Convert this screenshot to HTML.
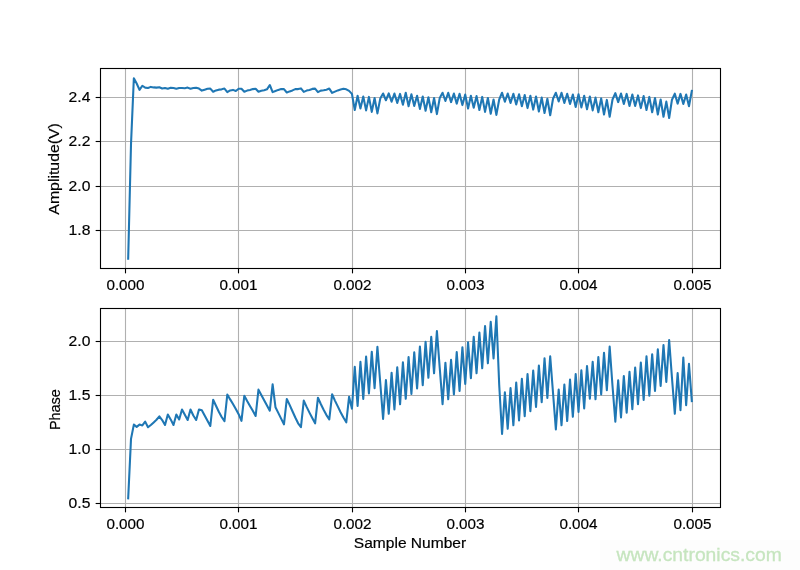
<!DOCTYPE html>
<html><head><meta charset="utf-8"><style>
html,body{margin:0;padding:0;background:#fff;width:800px;height:570px;overflow:hidden}
svg{display:block;will-change:transform}
text{font-family:"Liberation Sans",sans-serif;font-size:14.0px;fill:#000;stroke:#000;stroke-width:0.18px}
</style></head><body>
<svg width="800" height="570" viewBox="0 0 800 570">
<rect width="800" height="570" fill="#fff"/>
<g stroke="#b0b0b0" stroke-width="1.11" fill="none">
<line x1="125.50" y1="68.5" x2="125.50" y2="268.5"/>
<line x1="238.50" y1="68.5" x2="238.50" y2="268.5"/>
<line x1="352.50" y1="68.5" x2="352.50" y2="268.5"/>
<line x1="465.50" y1="68.5" x2="465.50" y2="268.5"/>
<line x1="578.50" y1="68.5" x2="578.50" y2="268.5"/>
<line x1="692.50" y1="68.5" x2="692.50" y2="268.5"/>
<line x1="125.50" y1="308.5" x2="125.50" y2="507.5"/>
<line x1="238.50" y1="308.5" x2="238.50" y2="507.5"/>
<line x1="352.50" y1="308.5" x2="352.50" y2="507.5"/>
<line x1="465.50" y1="308.5" x2="465.50" y2="507.5"/>
<line x1="578.50" y1="308.5" x2="578.50" y2="507.5"/>
<line x1="692.50" y1="308.5" x2="692.50" y2="507.5"/>
<line x1="100.5" y1="230.50" x2="720.5" y2="230.50"/>
<line x1="100.5" y1="186.50" x2="720.5" y2="186.50"/>
<line x1="100.5" y1="141.50" x2="720.5" y2="141.50"/>
<line x1="100.5" y1="97.50" x2="720.5" y2="97.50"/>
<line x1="100.5" y1="503.50" x2="720.5" y2="503.50"/>
<line x1="100.5" y1="449.50" x2="720.5" y2="449.50"/>
<line x1="100.5" y1="395.50" x2="720.5" y2="395.50"/>
<line x1="100.5" y1="341.50" x2="720.5" y2="341.50"/>
</g>
<g fill="none" stroke="#1f77b4" stroke-width="2.08" stroke-linejoin="round" stroke-linecap="square">
<polyline points="128.18,258.80 131.01,144.00 133.85,78.20 136.68,83.50 139.51,89.90 142.34,85.75 145.18,87.60 148.01,88.00 150.84,86.90 153.67,87.40 156.51,87.60 159.34,87.25 162.17,88.50 165.00,88.00 167.83,88.75 170.67,87.85 173.50,88.00 176.33,88.75 179.16,88.00 182.00,88.00 184.83,88.20 187.66,87.60 190.49,88.75 193.33,88.00 196.16,87.80 198.99,88.60 201.82,90.60 204.65,89.65 207.49,88.75 210.32,88.60 213.15,91.75 215.98,90.40 218.82,89.65 221.65,89.35 224.48,88.60 227.31,92.10 230.15,90.40 232.98,89.90 235.81,91.00 238.64,88.75 241.47,88.75 244.31,91.75 247.14,90.60 249.97,89.90 252.80,89.10 255.64,88.75 258.47,91.75 261.30,90.85 264.13,90.25 266.97,89.35 269.80,85.00 272.63,92.10 275.46,91.00 278.29,89.90 281.13,89.10 283.96,89.10 286.79,92.50 289.62,91.40 292.46,90.40 295.29,89.10 298.12,89.10 300.95,88.40 303.78,91.90 306.62,90.60 309.45,89.90 312.28,88.90 315.11,88.60 317.95,92.10 320.78,90.60 323.61,90.25 326.44,89.65 329.28,88.60 332.11,92.90 334.94,91.60 337.77,90.40 340.60,89.50 343.44,88.75 346.27,89.30 349.10,90.90 351.93,93.90 354.77,110.00 357.60,95.75 360.43,108.50 363.26,96.50 366.10,110.40 368.93,96.90 371.76,111.90 374.59,98.00 377.42,113.40 380.26,98.60 383.09,93.50 385.92,100.25 388.75,93.35 391.59,101.75 394.42,93.50 397.25,102.90 400.08,93.90 402.92,104.75 405.75,92.75 408.58,106.25 411.41,94.25 414.24,105.90 417.08,95.75 419.91,108.90 422.74,96.50 425.57,110.75 428.41,97.25 431.24,112.25 434.07,98.00 436.90,114.10 439.74,98.00 442.57,92.75 445.40,101.00 448.23,92.75 451.06,102.10 453.90,93.50 456.73,103.60 459.56,93.70 462.39,105.10 465.23,94.60 468.06,108.50 470.89,95.75 473.72,107.75 476.56,96.10 479.39,110.00 482.22,96.90 485.05,111.90 487.88,98.00 490.72,113.75 493.55,99.50 496.38,114.90 499.21,99.50 502.05,92.75 504.88,101.75 507.71,93.50 510.54,102.90 513.38,93.70 516.21,104.40 519.04,94.25 521.87,106.25 524.70,95.00 527.54,108.10 530.37,95.75 533.20,109.60 536.03,96.50 538.87,111.50 541.70,97.60 544.53,113.00 547.36,98.75 550.20,115.25 553.03,98.75 555.86,92.75 558.69,101.40 561.52,92.75 564.36,102.90 567.19,93.70 570.02,104.00 572.85,94.60 575.69,107.00 578.52,94.25 581.35,107.40 584.18,95.75 587.01,109.25 589.85,96.50 592.68,110.40 595.51,97.60 598.34,112.25 601.18,98.40 604.01,114.50 606.84,99.90 609.67,116.75 612.51,99.50 615.34,93.10 618.17,102.10 621.00,93.50 623.83,104.00 626.67,93.90 629.50,105.90 632.33,94.60 635.16,105.90 638.00,95.40 640.83,108.10 643.66,96.10 646.49,110.00 649.33,96.90 652.16,112.25 654.99,98.00 657.82,114.50 660.65,99.50 663.49,116.75 666.32,101.60 669.15,118.00 671.98,99.70 674.82,93.70 677.65,103.60 680.48,93.90 683.31,104.00 686.15,94.60 688.98,106.25 691.81,90.90"/>
<polyline points="128.18,498.30 131.01,438.90 133.85,424.60 136.68,426.90 139.51,424.60 142.34,425.40 145.18,421.60 148.01,427.25 150.84,425.00 153.67,422.40 156.51,419.75 159.34,416.40 162.17,420.10 165.00,425.00 167.83,414.50 170.67,419.40 173.50,425.00 176.33,414.60 179.16,419.50 182.00,409.50 184.83,414.75 187.66,420.00 190.49,409.50 193.33,415.50 196.16,420.00 198.99,409.50 201.82,410.25 204.65,415.50 207.49,420.75 210.32,426.00 213.15,399.75 215.98,405.75 218.82,411.75 221.65,417.00 224.48,421.10 227.31,394.50 230.15,399.40 232.98,404.00 235.81,408.90 238.64,414.20 241.47,420.80 244.31,395.80 247.14,401.05 249.97,405.90 252.80,410.70 255.64,416.00 258.47,389.65 261.30,394.90 264.13,400.20 266.97,405.40 269.80,410.70 272.63,384.40 275.46,407.20 278.29,412.90 281.13,418.60 283.96,424.30 286.79,399.00 289.62,404.90 292.46,411.20 295.29,417.50 298.12,423.30 300.95,427.10 303.78,400.60 306.62,406.90 309.45,412.60 312.28,418.00 315.11,423.30 317.95,397.70 320.78,404.00 323.61,409.75 326.44,415.10 329.28,419.40 332.11,394.30 334.94,400.60 337.77,406.40 340.60,412.20 343.44,417.50 346.27,422.30 349.10,396.70 351.93,408.80 354.77,366.70 357.60,406.00 360.43,361.90 363.26,398.90 366.10,356.50 368.93,393.40 371.76,351.70 374.59,388.10 377.42,346.90 380.26,383.00 383.09,419.00 385.92,380.00 388.75,413.80 391.59,372.70 394.42,409.40 397.25,367.40 400.08,404.30 402.92,362.30 405.75,398.80 408.58,357.10 411.41,394.00 414.24,352.30 417.08,388.40 419.91,346.60 422.74,385.20 425.57,341.70 428.41,377.80 431.24,336.75 434.07,373.30 436.90,331.10 439.74,368.00 442.57,404.20 445.40,362.70 448.23,399.30 451.06,359.80 453.90,394.40 456.73,352.10 459.56,390.90 462.39,347.20 465.23,383.90 468.06,342.30 470.89,378.20 473.72,336.70 476.56,373.30 479.39,332.50 482.22,368.30 485.05,326.10 487.88,363.30 490.72,321.90 493.55,358.40 496.38,316.30 499.21,385.00 502.05,434.00 504.88,392.30 507.71,428.80 510.54,388.10 513.38,425.30 516.21,382.50 519.04,420.35 521.87,378.90 524.70,416.10 527.54,374.00 530.37,411.20 533.20,370.50 536.03,407.00 538.87,365.50 541.70,402.10 544.53,358.40 547.36,397.90 550.20,356.30 553.03,393.00 555.86,429.50 558.69,389.50 561.52,425.30 564.36,384.60 567.19,421.05 570.02,379.65 572.85,416.80 575.69,374.00 578.52,411.90 581.35,370.40 584.18,408.40 587.01,366.10 589.85,398.60 592.68,361.90 595.51,399.30 598.34,357.00 601.18,394.40 604.01,352.80 606.84,390.20 609.67,346.50 612.51,386.00 615.34,421.75 618.17,380.35 621.00,417.50 623.83,376.10 626.67,412.60 629.50,371.80 632.33,409.10 635.16,367.50 638.00,404.20 640.83,362.60 643.66,400.00 646.49,356.30 649.33,395.80 652.16,354.20 654.99,390.90 657.82,349.30 660.65,386.00 663.49,345.10 666.32,382.00 669.15,340.10 671.98,378.00 674.82,413.80 677.65,373.00 680.48,410.20 683.31,357.50 686.15,405.30 688.98,363.90 691.81,401.05"/>
</g>
<g fill="none" stroke="#000" stroke-width="1.11">
<rect x="100.5" y="68.5" width="620.0" height="200.0"/>
<rect x="100.5" y="308.5" width="620.0" height="199.0"/>
<line x1="125.50" y1="268.5" x2="125.50" y2="273.36"/>
<line x1="238.50" y1="268.5" x2="238.50" y2="273.36"/>
<line x1="352.50" y1="268.5" x2="352.50" y2="273.36"/>
<line x1="465.50" y1="268.5" x2="465.50" y2="273.36"/>
<line x1="578.50" y1="268.5" x2="578.50" y2="273.36"/>
<line x1="692.50" y1="268.5" x2="692.50" y2="273.36"/>
<line x1="125.50" y1="507.5" x2="125.50" y2="512.36"/>
<line x1="238.50" y1="507.5" x2="238.50" y2="512.36"/>
<line x1="352.50" y1="507.5" x2="352.50" y2="512.36"/>
<line x1="465.50" y1="507.5" x2="465.50" y2="512.36"/>
<line x1="578.50" y1="507.5" x2="578.50" y2="512.36"/>
<line x1="692.50" y1="507.5" x2="692.50" y2="512.36"/>
<line x1="95.64" y1="230.50" x2="100.5" y2="230.50"/>
<line x1="95.64" y1="186.50" x2="100.5" y2="186.50"/>
<line x1="95.64" y1="141.50" x2="100.5" y2="141.50"/>
<line x1="95.64" y1="97.50" x2="100.5" y2="97.50"/>
<line x1="95.64" y1="503.50" x2="100.5" y2="503.50"/>
<line x1="95.64" y1="449.50" x2="100.5" y2="449.50"/>
<line x1="95.64" y1="395.50" x2="100.5" y2="395.50"/>
<line x1="95.64" y1="341.50" x2="100.5" y2="341.50"/>
</g>
<g>
<text x="125.50" y="289.50" text-anchor="middle" textLength="38.2" lengthAdjust="spacingAndGlyphs">0.000</text>
<text x="238.50" y="289.50" text-anchor="middle" textLength="38.2" lengthAdjust="spacingAndGlyphs">0.001</text>
<text x="352.50" y="289.50" text-anchor="middle" textLength="38.2" lengthAdjust="spacingAndGlyphs">0.002</text>
<text x="465.50" y="289.50" text-anchor="middle" textLength="38.2" lengthAdjust="spacingAndGlyphs">0.003</text>
<text x="578.50" y="289.50" text-anchor="middle" textLength="38.2" lengthAdjust="spacingAndGlyphs">0.004</text>
<text x="692.50" y="289.50" text-anchor="middle" textLength="38.2" lengthAdjust="spacingAndGlyphs">0.005</text>
<text x="125.50" y="528.50" text-anchor="middle" textLength="38.2" lengthAdjust="spacingAndGlyphs">0.000</text>
<text x="238.50" y="528.50" text-anchor="middle" textLength="38.2" lengthAdjust="spacingAndGlyphs">0.001</text>
<text x="352.50" y="528.50" text-anchor="middle" textLength="38.2" lengthAdjust="spacingAndGlyphs">0.002</text>
<text x="465.50" y="528.50" text-anchor="middle" textLength="38.2" lengthAdjust="spacingAndGlyphs">0.003</text>
<text x="578.50" y="528.50" text-anchor="middle" textLength="38.2" lengthAdjust="spacingAndGlyphs">0.004</text>
<text x="692.50" y="528.50" text-anchor="middle" textLength="38.2" lengthAdjust="spacingAndGlyphs">0.005</text>
<text x="90.4" y="234.60" text-anchor="end" textLength="21.8" lengthAdjust="spacingAndGlyphs">1.8</text>
<text x="90.4" y="190.60" text-anchor="end" textLength="21.8" lengthAdjust="spacingAndGlyphs">2.0</text>
<text x="90.4" y="145.60" text-anchor="end" textLength="21.8" lengthAdjust="spacingAndGlyphs">2.2</text>
<text x="90.4" y="101.60" text-anchor="end" textLength="21.8" lengthAdjust="spacingAndGlyphs">2.4</text>
<text x="90.4" y="507.60" text-anchor="end" textLength="21.8" lengthAdjust="spacingAndGlyphs">0.5</text>
<text x="90.4" y="453.60" text-anchor="end" textLength="21.8" lengthAdjust="spacingAndGlyphs">1.0</text>
<text x="90.4" y="399.60" text-anchor="end" textLength="21.8" lengthAdjust="spacingAndGlyphs">1.5</text>
<text x="90.4" y="345.60" text-anchor="end" textLength="21.8" lengthAdjust="spacingAndGlyphs">2.0</text>
<text transform="translate(59.2,168.9) rotate(-90)" text-anchor="middle" textLength="91.5" lengthAdjust="spacingAndGlyphs">Amplitude(V)</text>
<text transform="translate(59.8,409.6) rotate(-90)" text-anchor="middle" textLength="41.0" lengthAdjust="spacingAndGlyphs">Phase</text>
<text x="410" y="548" text-anchor="middle" textLength="112.3" lengthAdjust="spacingAndGlyphs">Sample Number</text>
</g>
<rect x="600" y="540" width="200" height="30" fill="#fdfdfd"/>
<text x="616.6" y="560.7" textLength="165.2" lengthAdjust="spacingAndGlyphs" style="font-size:18.8px;fill:#c6e5bf;stroke:#c6e5bf;stroke-width:0.3px">www.cntronics.com</text>
</svg>
</body></html>
